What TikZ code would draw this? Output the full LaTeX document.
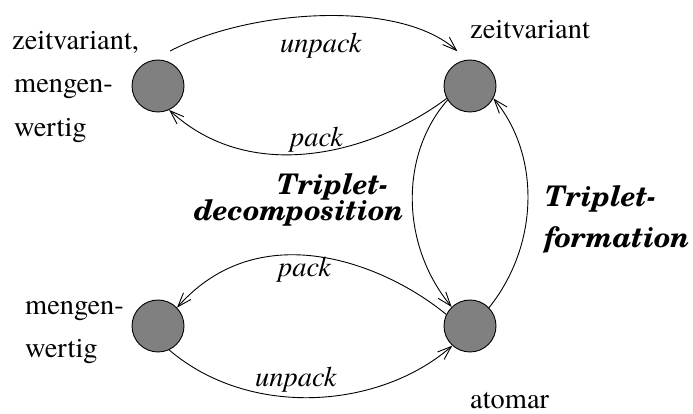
\documentclass[tikz,border=0pt]{standalone}
\usepackage{fontspec}
\newfontfamily\timesfont{texgyretermes}[Extension=.otf,UprightFont=*-regular,ItalicFont=*-italic,BoldFont=*-bold,BoldItalicFont=*-bolditalic]
\newfontfamily\tripfont{texgyreschola}[Extension=.otf,UprightFont=*-regular,ItalicFont=*-italic,BoldFont=*-bold,BoldItalicFont=*-bolditalic]
\usetikzlibrary{arrows.meta,calc}
\definecolor{nodegray}{RGB}{128,128,128}
\tikzset{
  state/.style={circle,draw=black,line width=0.9pt,fill=nodegray,minimum size=52pt,inner sep=0pt},
  lbl/.style={inner sep=0pt,font=\fontsize{28.4}{30}\selectfont\timesfont},
  elbl/.style={inner sep=0pt,font=\fontsize{28.4}{30}\selectfont\timesfont\itshape},
  tlbl/.style={inner sep=0pt,font=\fontsize{28.4}{30}\selectfont\tripfont\bfseries\itshape},
  arr/.style={line width=0.9pt,-{Straight Barb[length=14pt,width=10pt,line width=0.9pt]}}
}
\begin{document}
\begin{tikzpicture}[x=1pt,y=1pt]
\useasboundingbox (0,0) rectangle (693,414);
% states
\node[state] (tl) at (158,328) {};
\node[state] (tr) at (470,328) {};
\node[state] (bl) at (158,88) {};
\node[state] (br) at (470,88) {};
% state labels
\node[lbl,anchor=base west] (tl1) at (12,364) {zeitvariant,};
\node[lbl,anchor=base west] (tl2) at (14,321) {mengen-};
\node[lbl,anchor=base west] (tl3) at (14,277) {wertig};
\node[lbl,anchor=base west] (trl) at (470,375) {zeitvariant};
\node[lbl,anchor=base west] (bl1) at (25,99) {mengen-};
\node[lbl,anchor=base west] (bl2) at (25,56) {wertig};
\node[lbl,anchor=base west] (brl) at (470,5) {atomar};
% edge labels
\node[elbl,anchor=base west] (e1) at (280,361) {unpack};
\node[elbl,anchor=base west] (e2) at (290,267) {pack};
\node[elbl,anchor=base west] (e5) at (278,137) {pack};
\node[elbl,anchor=base west] (e6) at (255,27) {unpack};
\node[tlbl,anchor=base west] (d1) at (277,219) {Triplet-};
\node[tlbl,anchor=base west] (d2) at (194,193) {decomposition};
\node[tlbl,anchor=base west] (f1) at (545,207) {Triplet-};
\node[tlbl,anchor=base west] (f2) at (544,166) {formation};
% connectors
\coordinate (u1s) at ($(tl)+(71:37)$);
\coordinate (u1e) at ($(tr)+(110:37)$);
\draw[arr] (u1s) .. controls (250,405) and (400,415) .. (u1e);
\draw[arr] (tr.208) .. controls (380,265) and (255,225) .. (tl.295);
\draw[arr] (tr.212) .. controls (400,260) and (400,170) .. (br.134);
\draw[arr] (br.44) .. controls (540,170) and (540,260) .. (tr.332);
\draw[arr] (br.154) .. controls (385,150) and (260,200) .. (bl.44);
\draw[arr] (bl.295) .. controls (250,-5) and (380,5) .. (br.228);
\end{tikzpicture}
\end{document}
